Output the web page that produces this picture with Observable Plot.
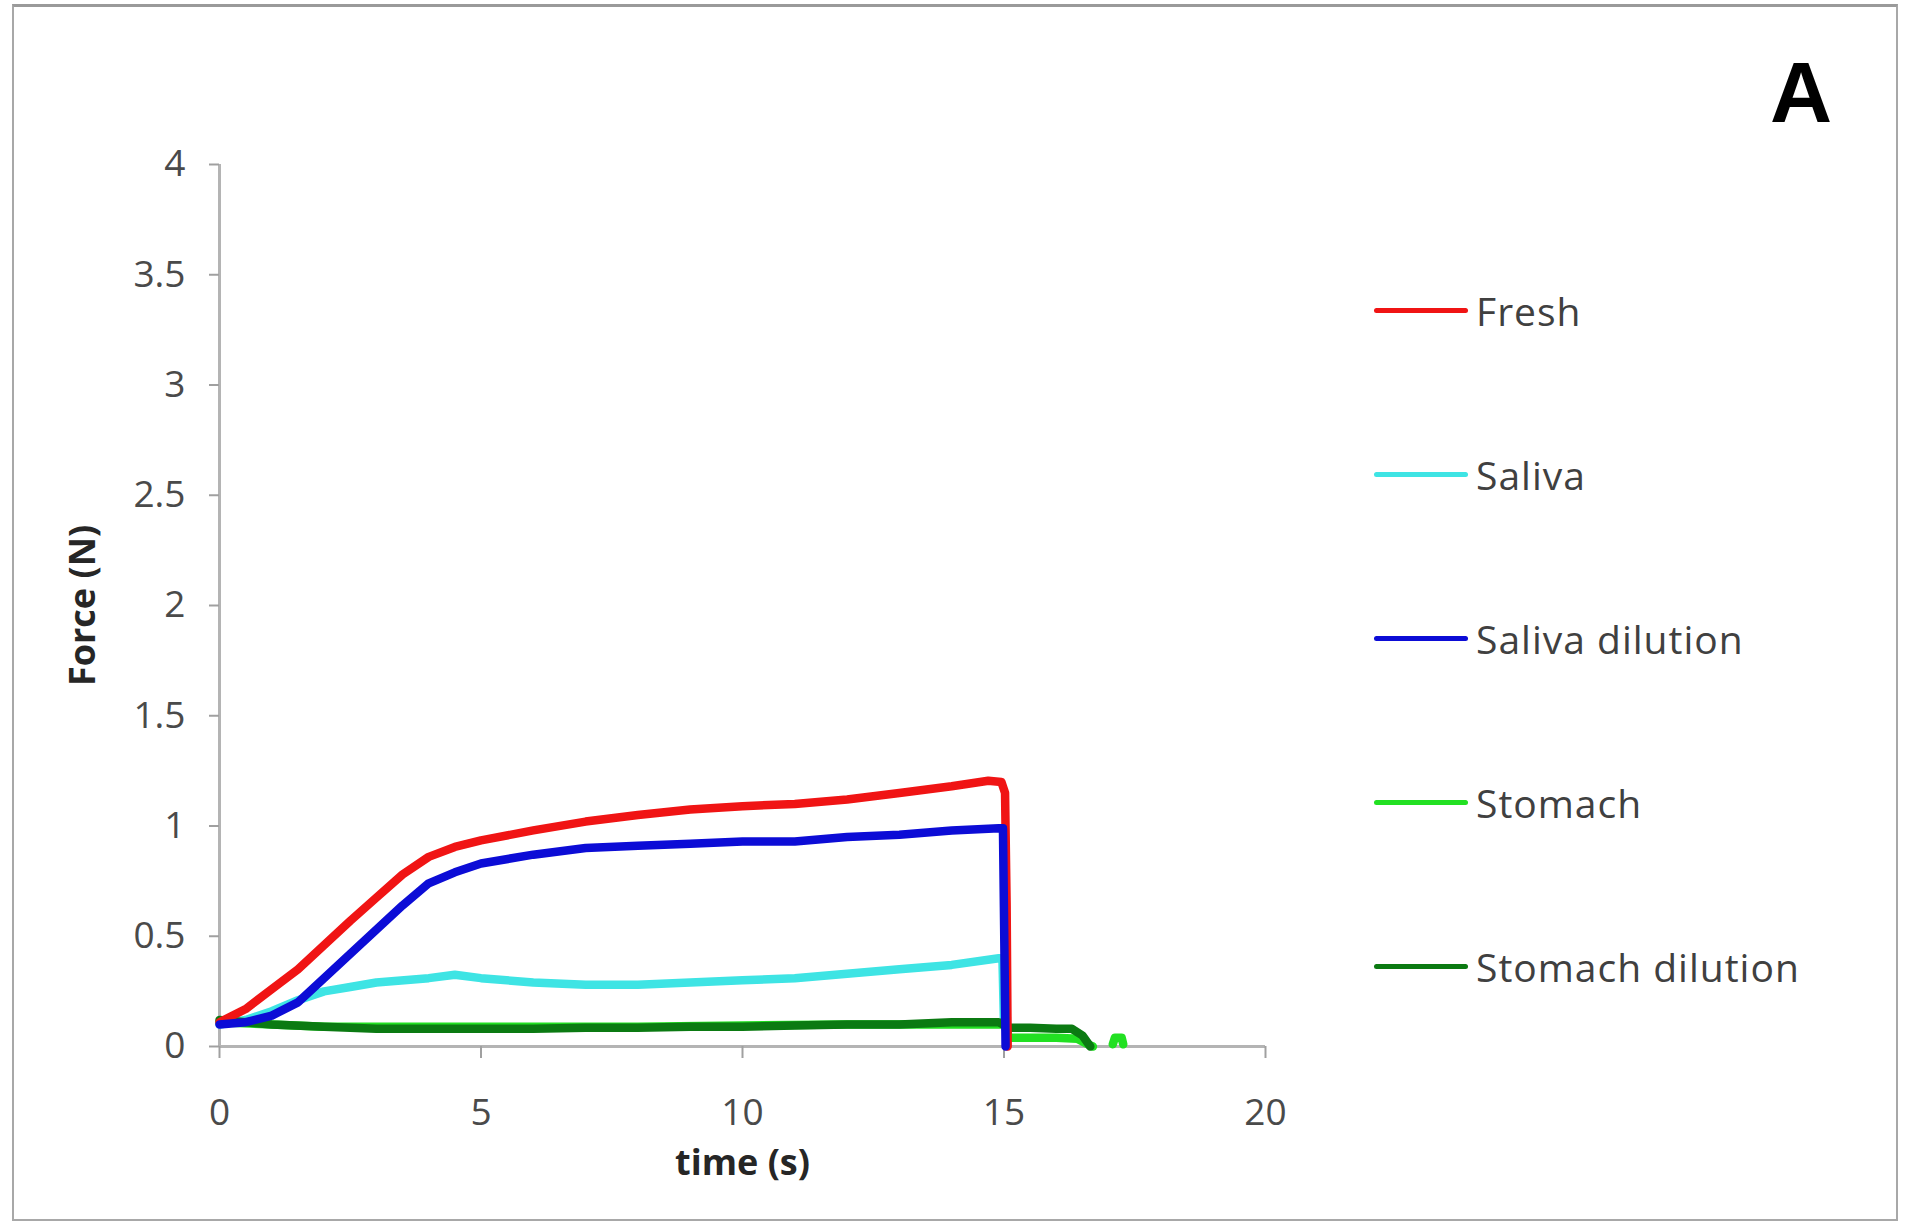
<!DOCTYPE html>
<html>
<head>
<meta charset="utf-8">
<script src="https://cdn.jsdelivr.net/npm/d3@7"></script>
<script src="https://cdn.jsdelivr.net/npm/@observablehq/plot@0.6"></script>
<style>
  html, body { margin: 0; padding: 0; background: #fff; }
  #wrap { position: relative; width: 1907px; height: 1225px; overflow: hidden; font-family: "Open Sans", sans-serif; }
  #frame { position: absolute; left: 12px; top: 4px; width: 1882px; height: 1212px; border: 2px solid #a8a8a8; border-top: 3px solid #9a9a9a; }
  #chart { position: absolute; left: 0; top: 0; }
  #chart svg text { font-family: "Open Sans", sans-serif; }
  #chart g[aria-label="y-axis tick label"] text, #chart g[aria-label="x-axis tick label"] text { fill: #4a4a4a; }
  #chart g[aria-label="y-axis label"] text, #chart g[aria-label="x-axis label"] text { font-weight: bold; font-size: 36px; fill: #262626; }
  #panel { position: absolute; left: 1770px; top: 49px; font-family: "Liberation Sans", Arial, sans-serif; font-weight: bold; font-size: 86px; line-height: 1; color: #000; }
  #legend { position: absolute; left: 1374px; top: 286px; }
  .row { display: flex; align-items: center; height: 48px; margin-bottom: 116px; }
  .sw { width: 94px; height: 5px; border-radius: 3px; margin-right: 8px; }
  .lab { font-size: 39px; color: #404040; letter-spacing: 1px; white-space: nowrap; }
</style>
</head>
<body>
<div id="wrap">
  <div id="frame"></div>
  <div id="chart"></div>
  <div id="panel">A</div>
  <div id="legend"></div>
</div>
<script>
// Series names and colours
const seriesNames = ["Fresh", "Saliva", "Saliva dilution", "Stomach", "Stomach dilution"];
const seriesColors = ["#f01414", "#3ee4e4", "#0c0cd6", "#22e022", "#0b7a12"];

// Axis ticks
const xTicks = [0, 5, 10, 15, 20];
const yTicks = [0, 0.5, 1, 1.5, 2, 2.5, 3, 3.5, 4];

// Fresh
const freshT = [0, 0.5, 1, 1.5, 2, 2.5, 3, 3.5, 4, 4.5, 5, 6, 7, 8, 9, 10, 11, 12, 13, 14, 14.7, 14.95, 15.02, 15.05, 15.07];
const freshF = [0.11, 0.17, 0.26, 0.35, 0.46, 0.57, 0.675, 0.78, 0.86, 0.905, 0.935, 0.98, 1.02, 1.05, 1.075, 1.09, 1.1, 1.12, 1.15, 1.18, 1.205, 1.2, 1.15, 0.65, 0.0];

// Saliva
const salivaT = [0, 0.5, 1, 1.5, 2, 2.5, 3, 4, 4.5, 5, 6, 7, 8, 9, 10, 11, 12, 13, 14, 14.9, 14.97, 15.0];
const salivaF = [0.1, 0.12, 0.16, 0.21, 0.25, 0.27, 0.29, 0.31, 0.325, 0.31, 0.29, 0.28, 0.28, 0.29, 0.3, 0.31, 0.33, 0.35, 0.37, 0.4, 0.4, 0.1];

// Saliva dilution
const salDilT = [0, 0.5, 1, 1.5, 2, 2.5, 3, 3.5, 4, 4.5, 5, 6, 7, 8, 9, 10, 11, 12, 13, 14, 14.9, 14.98, 15.03];
const salDilF = [0.1, 0.11, 0.14, 0.2, 0.31, 0.42, 0.53, 0.64, 0.74, 0.79, 0.83, 0.87, 0.9, 0.91, 0.92, 0.93, 0.93, 0.95, 0.96, 0.98, 0.99, 0.99, 0.0];

// Stomach (NaN marks a gap in the trace)
const stomachT = [0, 1, 2, 4, 6, 8, 10, 12, 14, 15, 15.1, 16, 16.4, 16.6, 16.7, 16.9, 17.08, 17.12, 17.25, 17.28];
const stomachF = [0.11, 0.1, 0.09, 0.09, 0.09, 0.09, 0.095, 0.1, 0.1, 0.1, 0.04, 0.04, 0.035, 0.01, 0.0, NaN, 0.01, 0.04, 0.04, 0.01];

// Stomach dilution
const stoDilT = [0, 0.5, 1, 2, 3, 4, 5, 6, 7, 8, 9, 10, 11, 12, 13, 14, 14.9, 15.1, 15.5, 16, 16.3, 16.5, 16.65];
const stoDilF = [0.12, 0.11, 0.1, 0.09, 0.08, 0.08, 0.08, 0.08, 0.085, 0.085, 0.09, 0.09, 0.095, 0.1, 0.1, 0.11, 0.11, 0.085, 0.085, 0.08, 0.08, 0.05, 0.0];

const rows = [];
function add(name, T, F) { T.forEach((t, i) => rows.push({series: name, t, f: F[i]})); }
// drawing order
add("Stomach", stomachT, stomachF);
add("Saliva", salivaT, salivaF);
add("Stomach dilution", stoDilT, stoDilF);
add("Fresh", freshT, freshF);
add("Saliva dilution", salDilT, salDilF);

const chart = Plot.plot({
  width: 1330,
  height: 1225,
  marginLeft: 219,
  marginRight: 65,
  marginTop: 164,
  marginBottom: 179,
  style: {background: "transparent", fontSize: "37px"},
  x: {domain: [0, 20]},
  y: {domain: [0, 4]},
  color: {domain: seriesNames, range: seriesColors},
  marks: [
    Plot.ruleY([0], {stroke: "#b4b4b4", strokeWidth: 3}),
    Plot.ruleX([0], {y1: 0, y2: 4, stroke: "#b4b4b4", strokeWidth: 3}),
    Plot.axisX({ticks: xTicks, tickSize: 12, tickPadding: 40, tickFormat: d => String(d), stroke: "#a0a0a0", strokeWidth: 2, fontSize: 37,
      label: "time (s)", labelAnchor: "center", labelArrow: "none", labelOffset: 128}),
    Plot.axisY({ticks: yTicks, tickSize: 10, tickPadding: 24, tickFormat: d => String(d), stroke: "#a0a0a0", strokeWidth: 2, fontSize: 37,
      label: "Force (N)", labelAnchor: "center", labelArrow: "none", labelOffset: 150}),
    Plot.line(rows, {x: "t", y: "f", z: "series", stroke: "series", strokeWidth: 8.5, strokeLinejoin: "round", curve: "linear"})
  ]
});
document.getElementById("chart").appendChild(chart);

const legend = d3.select("#legend");
seriesNames.forEach((n, i) => {
  const r = legend.append("div").attr("class", "row");
  r.append("div").attr("class", "sw").style("background", seriesColors[i]);
  r.append("div").attr("class", "lab").text(n);
});
</script>
</body>
</html>
